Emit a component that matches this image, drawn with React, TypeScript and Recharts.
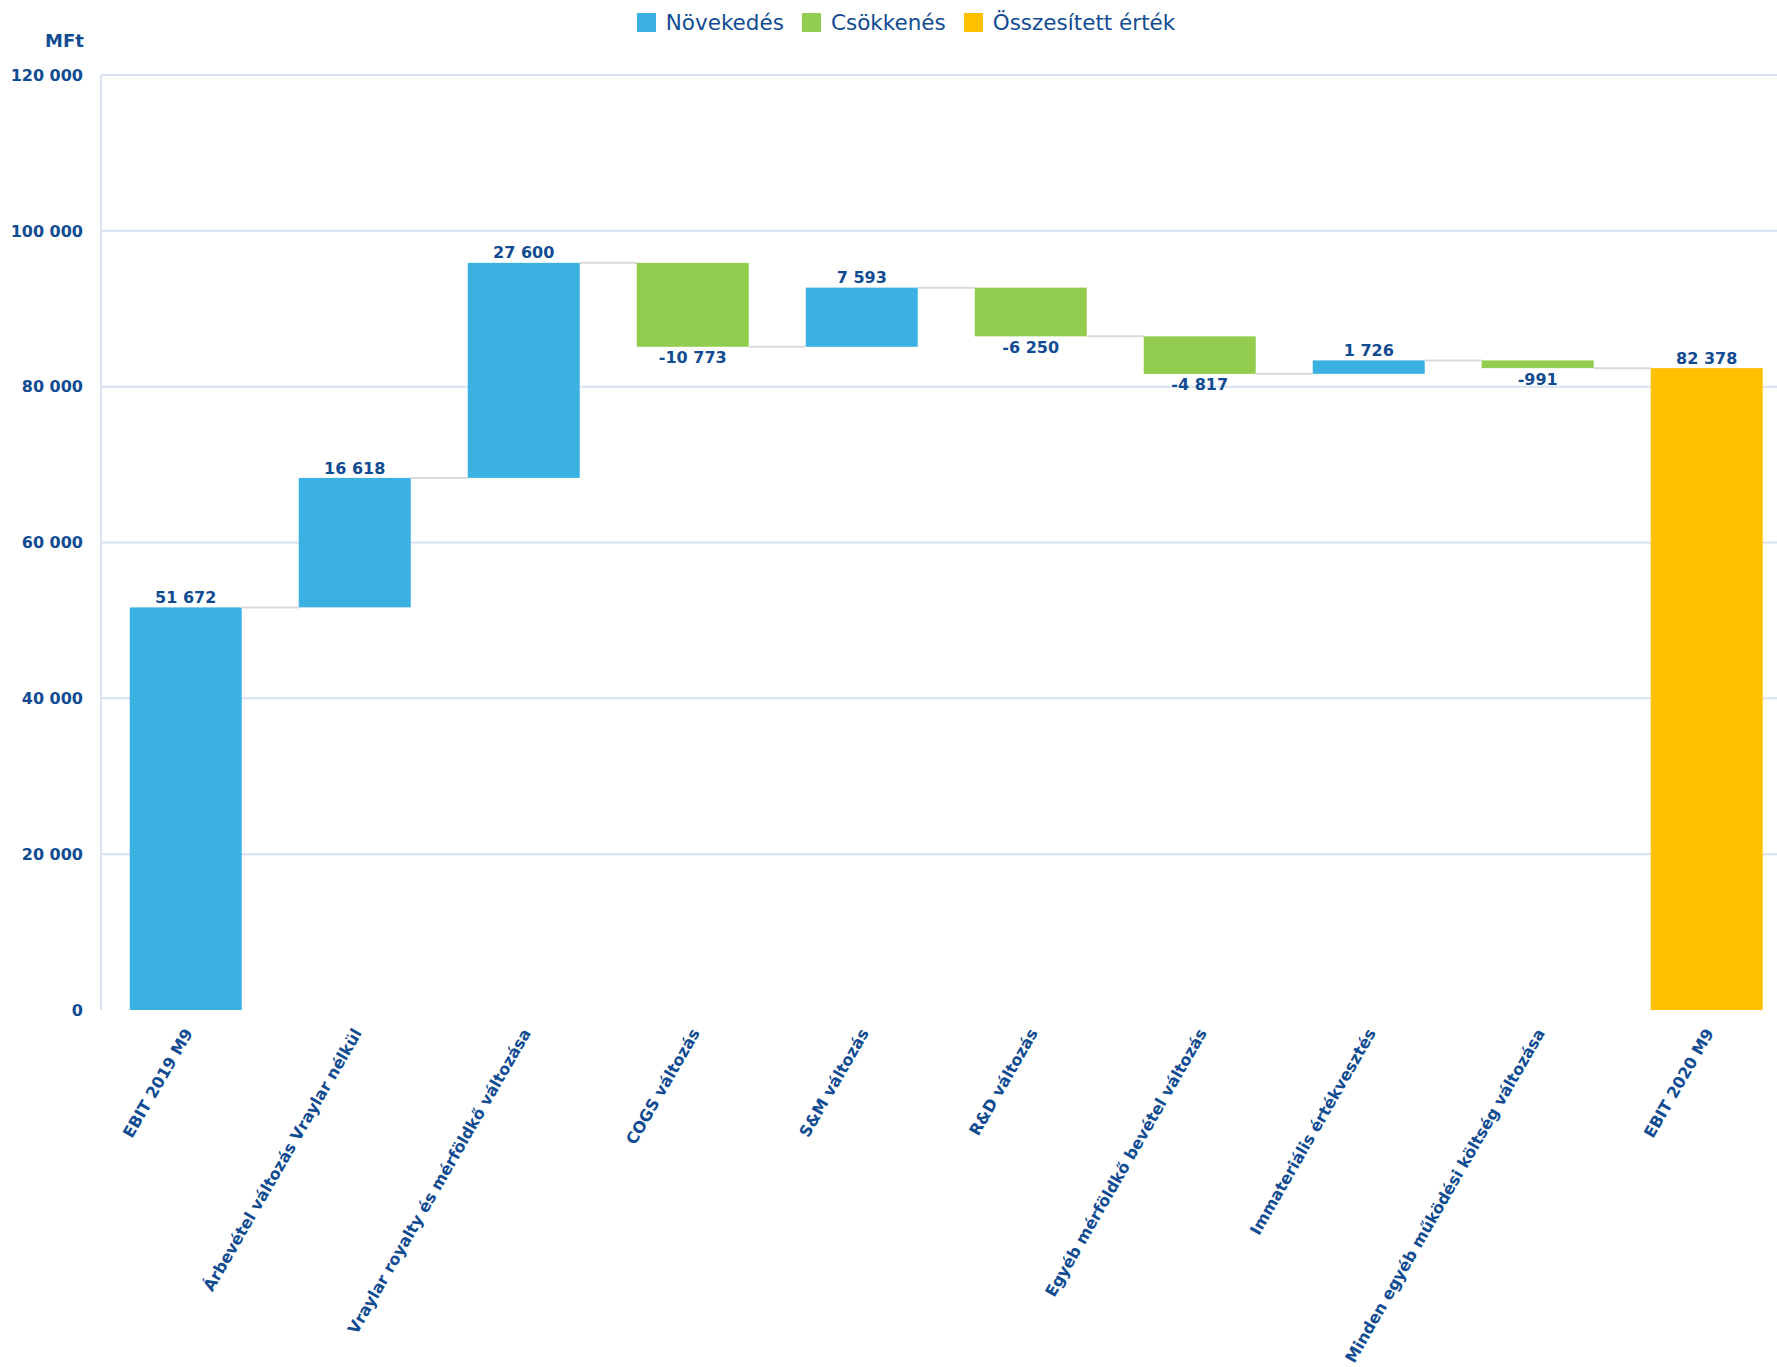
import React from 'react';
import { BarChart, Bar, XAxis, YAxis, CartesianGrid, Legend, LabelList } from 'recharts';

const CATEGORIES = [
  'EBIT 2019 M9',
  'Árbevétel változás Vraylar nélkül',
  'Vraylar royalty és mérföldkő változása',
  'COGS változás',
  'S&M változás',
  'R&D változás',
  'Egyéb mérföldkő bevétel változás',
  'Immateriális értékvesztés',
  'Minden egyéb működési költség változása',
  'EBIT 2020 M9',
];

// step changes (first one is the starting EBIT, drawn as an increase)
const CHANGES = [51672, 16618, 27600, -10773, 7593, -6250, -4817, 1726, -991];
const END_TOTAL = 82378;

const Y_TICKS = [0, 20000, 40000, 60000, 80000, 100000, 120000];
const GRID_VALUES = [20000, 40000, 60000, 80000, 100000, 120000];

const LEGEND_ORDER = ['Növekedés', 'Csökkenés', 'Összesített érték'];

const COLORS = {
  up: '#3BB1E2',
  down: '#92CD4F',
  total: '#FFC000',
  text: '#114B91',
  grid: '#D9E2F3',
  connector: '#D9D9D9',
};

const FONT = '"DejaVu Sans", Verdana, sans-serif';

const CHART_W = 1800;
const CHART_H = 1367;
const MARGIN = { top: 75, right: 9, left: 0, bottom: 0 };
const Y_AXIS_W = 101;
const PLOT_W = CHART_W - MARGIN.left - MARGIN.right - Y_AXIS_W;
const BAND = PLOT_W / CATEGORIES.length;

let running = 0;
const data = CATEGORIES.map((name, i) => {
  if (i === CATEGORIES.length - 1) {
    return { name, base: 0, up: null, down: null, total: END_TOTAL };
  }
  const v = CHANGES[i];
  const start = running;
  running += v;
  return {
    name,
    base: Math.min(start, running),
    up: v > 0 ? v : null,
    down: v < 0 ? -v : null,
    total: null,
  };
});

const fmt = (n: number) => String(Math.abs(n)).replace(/\B(?=(\d{3})+(?!\d))/g, ' ');

const makeShape = (key: 'up' | 'down' | 'total', fill: string) => (props: any) => {
  const { x, y, width, height, payload } = props;
  if (!payload || payload[key] == null || !height) return <g />;
  const level = key === 'down' ? y + height : y;
  return (
    <g>
      <rect x={x} y={y} width={width} height={height} fill={fill} />
      {key !== 'total' && (
        <line x1={x + width} x2={x + BAND} y1={level} y2={level} stroke={COLORS.connector} strokeWidth={2} />
      )}
    </g>
  );
};

const makeLabel = (key: 'up' | 'down' | 'total') => (props: any) => {
  const { x, y, width, height, value } = props;
  if (value == null) return null;
  const below = key === 'down';
  return (
    <text
      x={x + width / 2}
      y={below ? y + height + 11 : y - 10}
      dy="0.35em"
      textAnchor="middle"
      fill={COLORS.text}
      fontFamily={FONT}
      fontWeight="bold"
      fontSize={16}
    >
      {(below ? '-' : '') + fmt(value)}
    </text>
  );
};

const XTick = ({ x, y, payload }: any) => (
  <text
    x={x + 3}
    y={y + 12}
    dy="0.35em"
    transform={`rotate(-60 ${x + 3} ${y + 12})`}
    textAnchor="end"
    fill={COLORS.text}
    fontFamily={FONT}
    fontWeight="bold"
    fontSize={16}
  >
    {payload.value}
  </text>
);

const LegendContent = ({ payload }: any) => {
  const items = (payload || [])
    .filter((p: any) => p.type !== 'none')
    .sort((a: any, b: any) => LEGEND_ORDER.indexOf(a.value) - LEGEND_ORDER.indexOf(b.value));
  return (
    <div style={{ display: 'flex', justifyContent: 'center', gap: 18, fontFamily: FONT, fontSize: 21.5, color: COLORS.text }}>
      {items.map((p: any) => (
        <div key={p.value} style={{ display: 'flex', alignItems: 'center' }}>
          <span style={{ display: 'inline-block', width: 19, height: 19, background: p.color, marginRight: 10 }} />
          <span>{p.value}</span>
        </div>
      ))}
    </div>
  );
};

export default function App() {
  return (
    <div style={{ position: 'absolute', left: 0, top: 0, width: 1777, height: CHART_H, overflow: 'hidden', background: '#fff' }}>
      <div
        style={{
          position: 'absolute',
          left: 45,
          top: 30,
          width: 38,
          textAlign: 'right',
          fontFamily: FONT,
          fontWeight: 'bold',
          fontSize: 18,
          color: COLORS.text,
        }}
      >
        MFt
      </div>
      <BarChart width={CHART_W} height={CHART_H} data={data} margin={MARGIN} barCategoryGap="17%">
        <CartesianGrid vertical={false} horizontalValues={GRID_VALUES} stroke={COLORS.grid} strokeWidth={2} />
        <XAxis
          dataKey="name"
          interval={0}
          height={CHART_H - 1010}
          tick={<XTick />}
          tickLine={false}
          axisLine={false}
        />
        <YAxis
          width={Y_AXIS_W}
          domain={[0, 120000]}
          ticks={Y_TICKS}
          tickFormatter={(v: number) => fmt(v)}
          tickLine={false}
          tickSize={0}
          tickMargin={18}
          axisLine={{ stroke: COLORS.grid, strokeWidth: 2 }}
          tick={{ fill: COLORS.text, fontFamily: FONT, fontWeight: 'bold', fontSize: 16 }}
        />
        <Legend
          verticalAlign="middle"
          align="center"
          content={<LegendContent />}
          wrapperStyle={{ top: 10, left: 0, width: 1812 }}
        />
        <Bar dataKey="base" stackId="w" fill="transparent" legendType="none" isAnimationActive={false} />
        <Bar dataKey="up" name="Növekedés" stackId="w" fill={COLORS.up} shape={makeShape('up', COLORS.up)} isAnimationActive={false}>
          <LabelList dataKey="up" content={makeLabel('up')} />
        </Bar>
        <Bar dataKey="down" name="Csökkenés" stackId="w" fill={COLORS.down} shape={makeShape('down', COLORS.down)} isAnimationActive={false}>
          <LabelList dataKey="down" content={makeLabel('down')} />
        </Bar>
        <Bar dataKey="total" name="Összesített érték" stackId="w" fill={COLORS.total} shape={makeShape('total', COLORS.total)} isAnimationActive={false}>
          <LabelList dataKey="total" content={makeLabel('total')} />
        </Bar>
      </BarChart>
    </div>
  );
}
